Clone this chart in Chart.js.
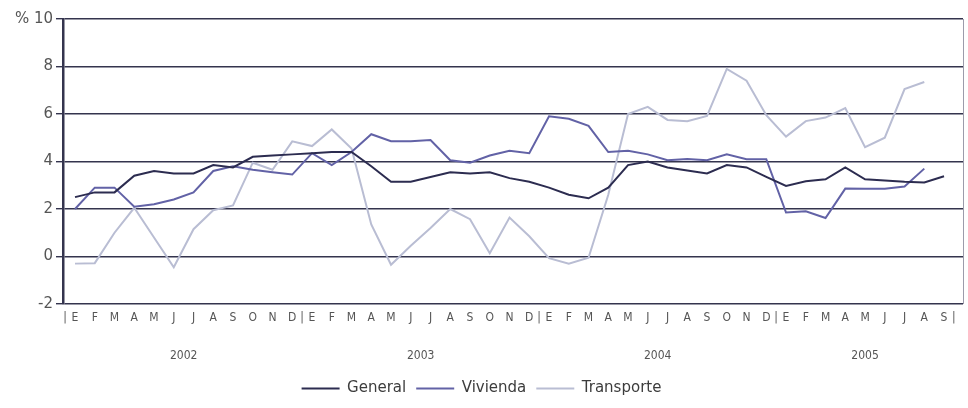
<!DOCTYPE html>
<html>
<head>
<meta charset="utf-8">
<script src="https://cdn.jsdelivr.net/npm/chart.js@4.4.1/dist/chart.umd.min.js"></script>
<style>
  html, body { margin: 0; padding: 0; background: #fff; }
</style>
</head>
<body>
<canvas id="chart" width="968" height="408"></canvas>
<script>
// month initials, Jan 2002 .. Sep 2005
const monthLabels = [
  'E','F','M','A','M','J','J','A','S','O','N','D',
  'E','F','M','A','M','J','J','A','S','O','N','D',
  'E','F','M','A','M','J','J','A','S','O','N','D',
  'E','F','M','A','M','J','J','A','S'
];
const yearLabels = ['2002', '2003', '2004', '2005'];
const yTicks = [-2, 0, 2, 4, 6, 8, 10];

const general = [
  2.5, 2.7, 2.7, 3.4, 3.6, 3.5, 3.5, 3.85, 3.75, 4.2, 4.25, 4.3,
  4.35, 4.4, 4.4, 3.8, 3.15, 3.15, 3.35, 3.55, 3.5, 3.55, 3.3, 3.15,
  2.9, 2.6, 2.45, 2.9, 3.85, 4.0, 3.75, 3.62, 3.5, 3.85, 3.75, 3.35,
  2.97, 3.17, 3.25, 3.75, 3.25, 3.2, 3.15, 3.12, 3.38
];
const vivienda = [
  2.0, 2.9, 2.9, 2.1, 2.2, 2.4, 2.7, 3.6, 3.8, 3.65, 3.55, 3.45,
  4.35, 3.85, 4.4, 5.15, 4.85, 4.85, 4.9, 4.05, 3.95, 4.25, 4.45, 4.35,
  5.9, 5.8, 5.5, 4.4, 4.45, 4.3, 4.05, 4.1, 4.05, 4.3, 4.1, 4.1,
  1.85, 1.9, 1.62, 2.86, 2.85, 2.85, 2.95, 3.7
];
const transporte = [
  -0.3, -0.28, 1.0, 2.05, 0.8, -0.45, 1.15, 1.95, 2.15, 3.95, 3.65, 4.85,
  4.65, 5.35, 4.55, 1.35, -0.35, 0.45, 1.2, 2.0, 1.57, 0.14, 1.64, 0.85,
  -0.07, -0.3, -0.05, 2.6, 6.0, 6.3, 5.75, 5.7, 5.92, 7.9, 7.4, 5.95,
  5.05, 5.7, 5.85, 6.25, 4.6, 5.0, 7.05, 7.35
];

const toPoints = (arr) => arr.map((v, i) => ({ x: i, y: v }));

const axisColor = '#34344e';
const labelColor = '#555';
const smallFont = '"DejaVu Sans Condensed", "DejaVu Sans", sans-serif';

// right border, year separators and year captions under the month letters
const extras = {
  id: 'extras',
  afterDraw(chart) {
    const { ctx, chartArea: a, scales: { x } } = chart;
    ctx.save();
    ctx.strokeStyle = '#9c9cab';
    ctx.lineWidth = 1;
    ctx.beginPath();
    ctx.moveTo(a.right + 0.5, a.top);
    ctx.lineTo(a.right + 0.5, a.bottom);
    ctx.stroke();

    ctx.fillStyle = labelColor;
    ctx.textAlign = 'center';
    ctx.textBaseline = 'middle';
    ctx.font = '12px ' + smallFont;
    const labelY = a.bottom + 14;
    const last = monthLabels.length - 1;
    [-0.5, 11.5, 23.5, 35.5, last + 0.5].forEach((v) => {
      ctx.fillText('|', x.getPixelForValue(v), labelY);
    });

    yearLabels.forEach((yr, k) => {
      const first = k * 12;
      const end = Math.min(first + 11, last);
      ctx.fillText(yr, x.getPixelForValue((first + end) / 2), a.bottom + 52);
    });
    ctx.restore();
  }
};

const lineSet = (label, data, color) => ({
  label,
  data: toPoints(data),
  borderColor: color,
  backgroundColor: color,
  borderWidth: 2,
  pointRadius: 0,
  tension: 0
});

new Chart(document.getElementById('chart'), {
  type: 'line',
  data: {
    datasets: [
      lineSet('General', general, '#2c2c50'),
      lineSet('Vivienda', vivienda, '#6262a6'),
      lineSet('Transporte', transporte, '#b9bdd3')
    ]
  },
  options: {
    responsive: false,
    animation: false,
    layout: { padding: { left: 0, right: 5, top: 19, bottom: 2 } },
    plugins: {
      tooltip: { enabled: false },
      legend: {
        position: 'bottom',
        labels: {
          usePointStyle: true,
          pointStyle: 'line',
          pointStyleWidth: 38,
          padding: 10,
          color: '#3c3c3c',
          font: { family: '"DejaVu Sans", sans-serif', size: 15 }
        }
      }
    },
    scales: {
      x: {
        type: 'linear',
        min: -0.608,
        max: 44.96,
        grid: { display: false, drawTicks: false },
        border: { display: false },
        afterBuildTicks: (scale) => {
          scale.ticks = monthLabels.map((_, i) => ({ value: i }));
        },
        afterFit: (scale) => { scale.height = 67; },
        ticks: {
          autoSkip: false,
          maxRotation: 0,
          padding: 7,
          color: labelColor,
          font: { family: smallFont, size: 12 },
          callback: (v) => monthLabels[v] ?? ''
        }
      },
      y: {
        min: -2,
        max: 10,
        afterBuildTicks: (scale) => {
          scale.ticks = yTicks.map((v) => ({ value: v }));
        },
        afterFit: (scale) => { scale.width = 63; },
        grid: { color: axisColor, lineWidth: 1.4, tickLength: 7 },
        border: { display: true, color: axisColor, width: 2.5 },
        ticks: {
          padding: 3,
          color: labelColor,
          font: { family: '"DejaVu Sans", sans-serif', size: 15 },
          callback: (v) => (v === 10 ? '% 10' : v)
        }
      }
    }
  },
  plugins: [extras]
});
</script>
</body>
</html>
